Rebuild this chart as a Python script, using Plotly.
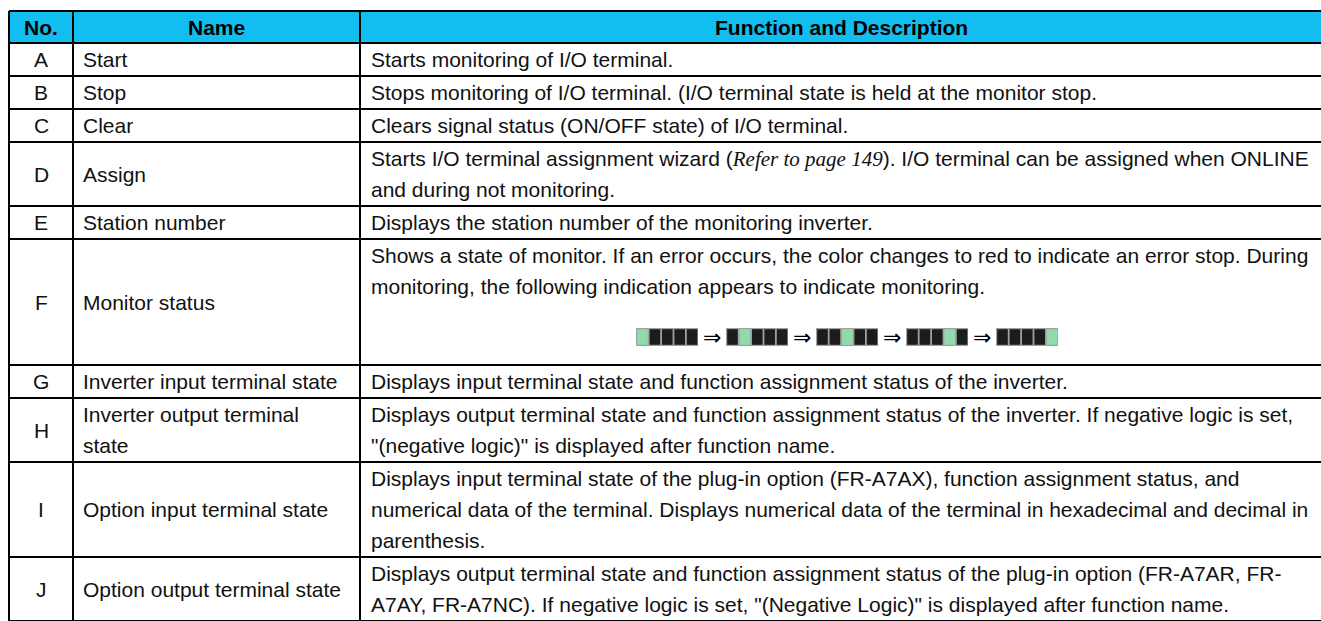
import plotly.graph_objects as go

W, H = 1321, 621

# ---------------- data ----------------
headers = ["No.", "Name", "Function and Description"]
nos = ["A", "B", "C", "D", "E", "F", "G", "H", "I", "J"]
names = [
    ["Start"],
    ["Stop"],
    ["Clear"],
    ["Assign"],
    ["Station number"],
    ["Monitor status"],
    ["Inverter input terminal state"],
    ["Inverter output terminal", "state"],
    ["Option input terminal state"],
    ["Option output terminal state"],
]
ref_text = "Refer to page 149"
descs = [
    ["Starts monitoring of I/O terminal."],
    ["Stops monitoring of I/O terminal. (I/O terminal state is held at the monitor stop."],
    ["Clears signal status (ON/OFF state) of I/O terminal."],
    ["Starts I/O terminal assignment wizard ({REF}). I/O terminal can be assigned when ONLINE",
     "and during not monitoring."],
    ["Displays the station number of the monitoring inverter."],
    ["Shows a state of monitor. If an error occurs, the color changes to red to indicate an error stop. During",
     "monitoring, the following indication appears to indicate monitoring.", "", ""],
    ["Displays input terminal state and function assignment status of the inverter."],
    ["Displays output terminal state and function assignment status of the inverter. If negative logic is set,",
     "\"(negative logic)\" is displayed after function name."],
    ["Displays input terminal state of the plug-in option (FR-A7AX), function assignment status, and",
     "numerical data of the terminal. Displays numerical data of the terminal in hexadecimal and decimal in",
     "parenthesis."],
    ["Displays output terminal state and function assignment status of the plug-in option (FR-A7AR, FR-",
     "A7AY, FR-A7NC). If negative logic is set, \"(Negative Logic)\" is displayed after function name."],
]
monitor_row = "F"
monitor_green = [1, 2, 3, 4, 5]   # highlighted cell in each indicator frame
cells_per_frame = 5

# ---------------- layout / style ----------------
col_edges = [9, 73, 360, 1322]
table_top = 11
header_h = 32
line_h = 31
row_pad = 2
FONT = "Liberation Sans, Arial, sans-serif"
FS = 21
TXT = "#111111"
HEADER_BG = "#12BEF0"
LINE = "#000000"

fig = go.Figure()
shapes = []
ann = []

# row boundaries
row_tops = []
y = table_top + header_h
for d in descs:
    row_tops.append(y)
    y += row_pad + line_h * len(d)
table_bottom = y
boundaries = [table_top, table_top + header_h] + row_tops[1:] + [table_bottom]

# header background
shapes.append(dict(type="rect", xref="x", yref="y", x0=col_edges[0], x1=col_edges[-1],
                   y0=table_top, y1=table_top + header_h, fillcolor=HEADER_BG,
                   line=dict(width=0), layer="below"))

# header text
for i, h in enumerate(headers):
    ann.append(dict(x=(col_edges[i] + col_edges[i + 1]) / 2, y=table_top + header_h / 2,
                    text=f"<b>{h}</b>", xanchor="center", yanchor="middle",
                    font=dict(family=FONT, size=FS, color="#000000")))

for r, (no, nm, d) in enumerate(zip(nos, names, descs)):
    top = row_tops[r]
    n_lines = len(d)
    rh = row_pad + line_h * n_lines
    mid = top + rh / 2
    line_c = [top + row_pad / 2 + line_h * (k + 0.5) for k in range(n_lines)]
    # number
    ann.append(dict(x=(col_edges[0] + col_edges[1]) / 2, y=mid, text=no,
                    xanchor="center", yanchor="middle",
                    font=dict(family=FONT, size=FS, color=TXT)))
    # name
    ys = [mid] if len(nm) == 1 else line_c[:len(nm)]
    for t, yy in zip(nm, ys):
        ann.append(dict(x=col_edges[1] + 8, y=yy, text=t, xanchor="left", yanchor="middle",
                        font=dict(family=FONT, size=FS, color=TXT)))
    # description
    for t, yy in zip(d, line_c):
        if not t:
            continue
        t = t.replace("{REF}", "<span style='font-family:Liberation Serif, Times New Roman, serif'><i>"
                      + ref_text + "</i></span>")
        ann.append(dict(x=col_edges[2] + 9, y=yy, text=t, xanchor="left", yanchor="middle",
                        font=dict(family=FONT, size=FS, color=TXT)))

    # monitoring indicator graphic
    if no == monitor_row:
        gy = top + row_pad / 2 + line_h * 3 + 4
        fw, fh, gap = 62, 18, 28
        total = len(monitor_green) * fw + (len(monitor_green) - 1) * gap
        cx = (col_edges[2] + col_edges[3]) / 2 + 6
        x0 = cx - total / 2
        cw = fw / cells_per_frame
        for f, g in enumerate(monitor_green):
            fx = x0 + f * (fw + gap)
            shapes.append(dict(type="rect", xref="x", yref="y", x0=fx, x1=fx + fw,
                               y0=gy - fh / 2, y1=gy + fh / 2, fillcolor="#a0a0a0",
                               line=dict(width=0)))
            for c in range(cells_per_frame):
                col = "#8fdcaa" if c + 1 == g else "#1c1c1c"
                shapes.append(dict(type="rect", xref="x", yref="y",
                                   x0=fx + c * cw + 1.2, x1=fx + (c + 1) * cw - 0.6,
                                   y0=gy - fh / 2 + 1.2, y1=gy + fh / 2 - 1.2,
                                   fillcolor=col, line=dict(width=0)))
            if f < len(monitor_green) - 1:
                ann.append(dict(x=fx + fw + gap / 2, y=gy, text="⇒", xanchor="center",
                                yanchor="middle",
                                font=dict(family="DejaVu Sans, sans-serif", size=22, color="#000")))

# grid lines
for yy in boundaries:
    shapes.append(dict(type="line", xref="x", yref="y", x0=col_edges[0], x1=col_edges[-1],
                       y0=yy, y1=yy, line=dict(color=LINE, width=2)))
for xx in col_edges:
    shapes.append(dict(type="line", xref="x", yref="y", x0=xx, x1=xx,
                       y0=table_top, y1=table_bottom, line=dict(color=LINE, width=2)))

for a in ann:
    a.update(xref="x", yref="y", showarrow=False)

fig.update_layout(
    width=W, height=H,
    margin=dict(l=0, r=0, t=0, b=0),
    paper_bgcolor="white", plot_bgcolor="white",
    xaxis=dict(range=[0, W], visible=False, fixedrange=True),
    yaxis=dict(range=[H, 0], visible=False, fixedrange=True),
    shapes=shapes, annotations=ann, showlegend=False,
)

fig.write_html("out.html", config={"displayModeBar": False, "staticPlot": True},
               post_script="document.body.style.margin='0px';document.body.style.overflow='hidden';")
